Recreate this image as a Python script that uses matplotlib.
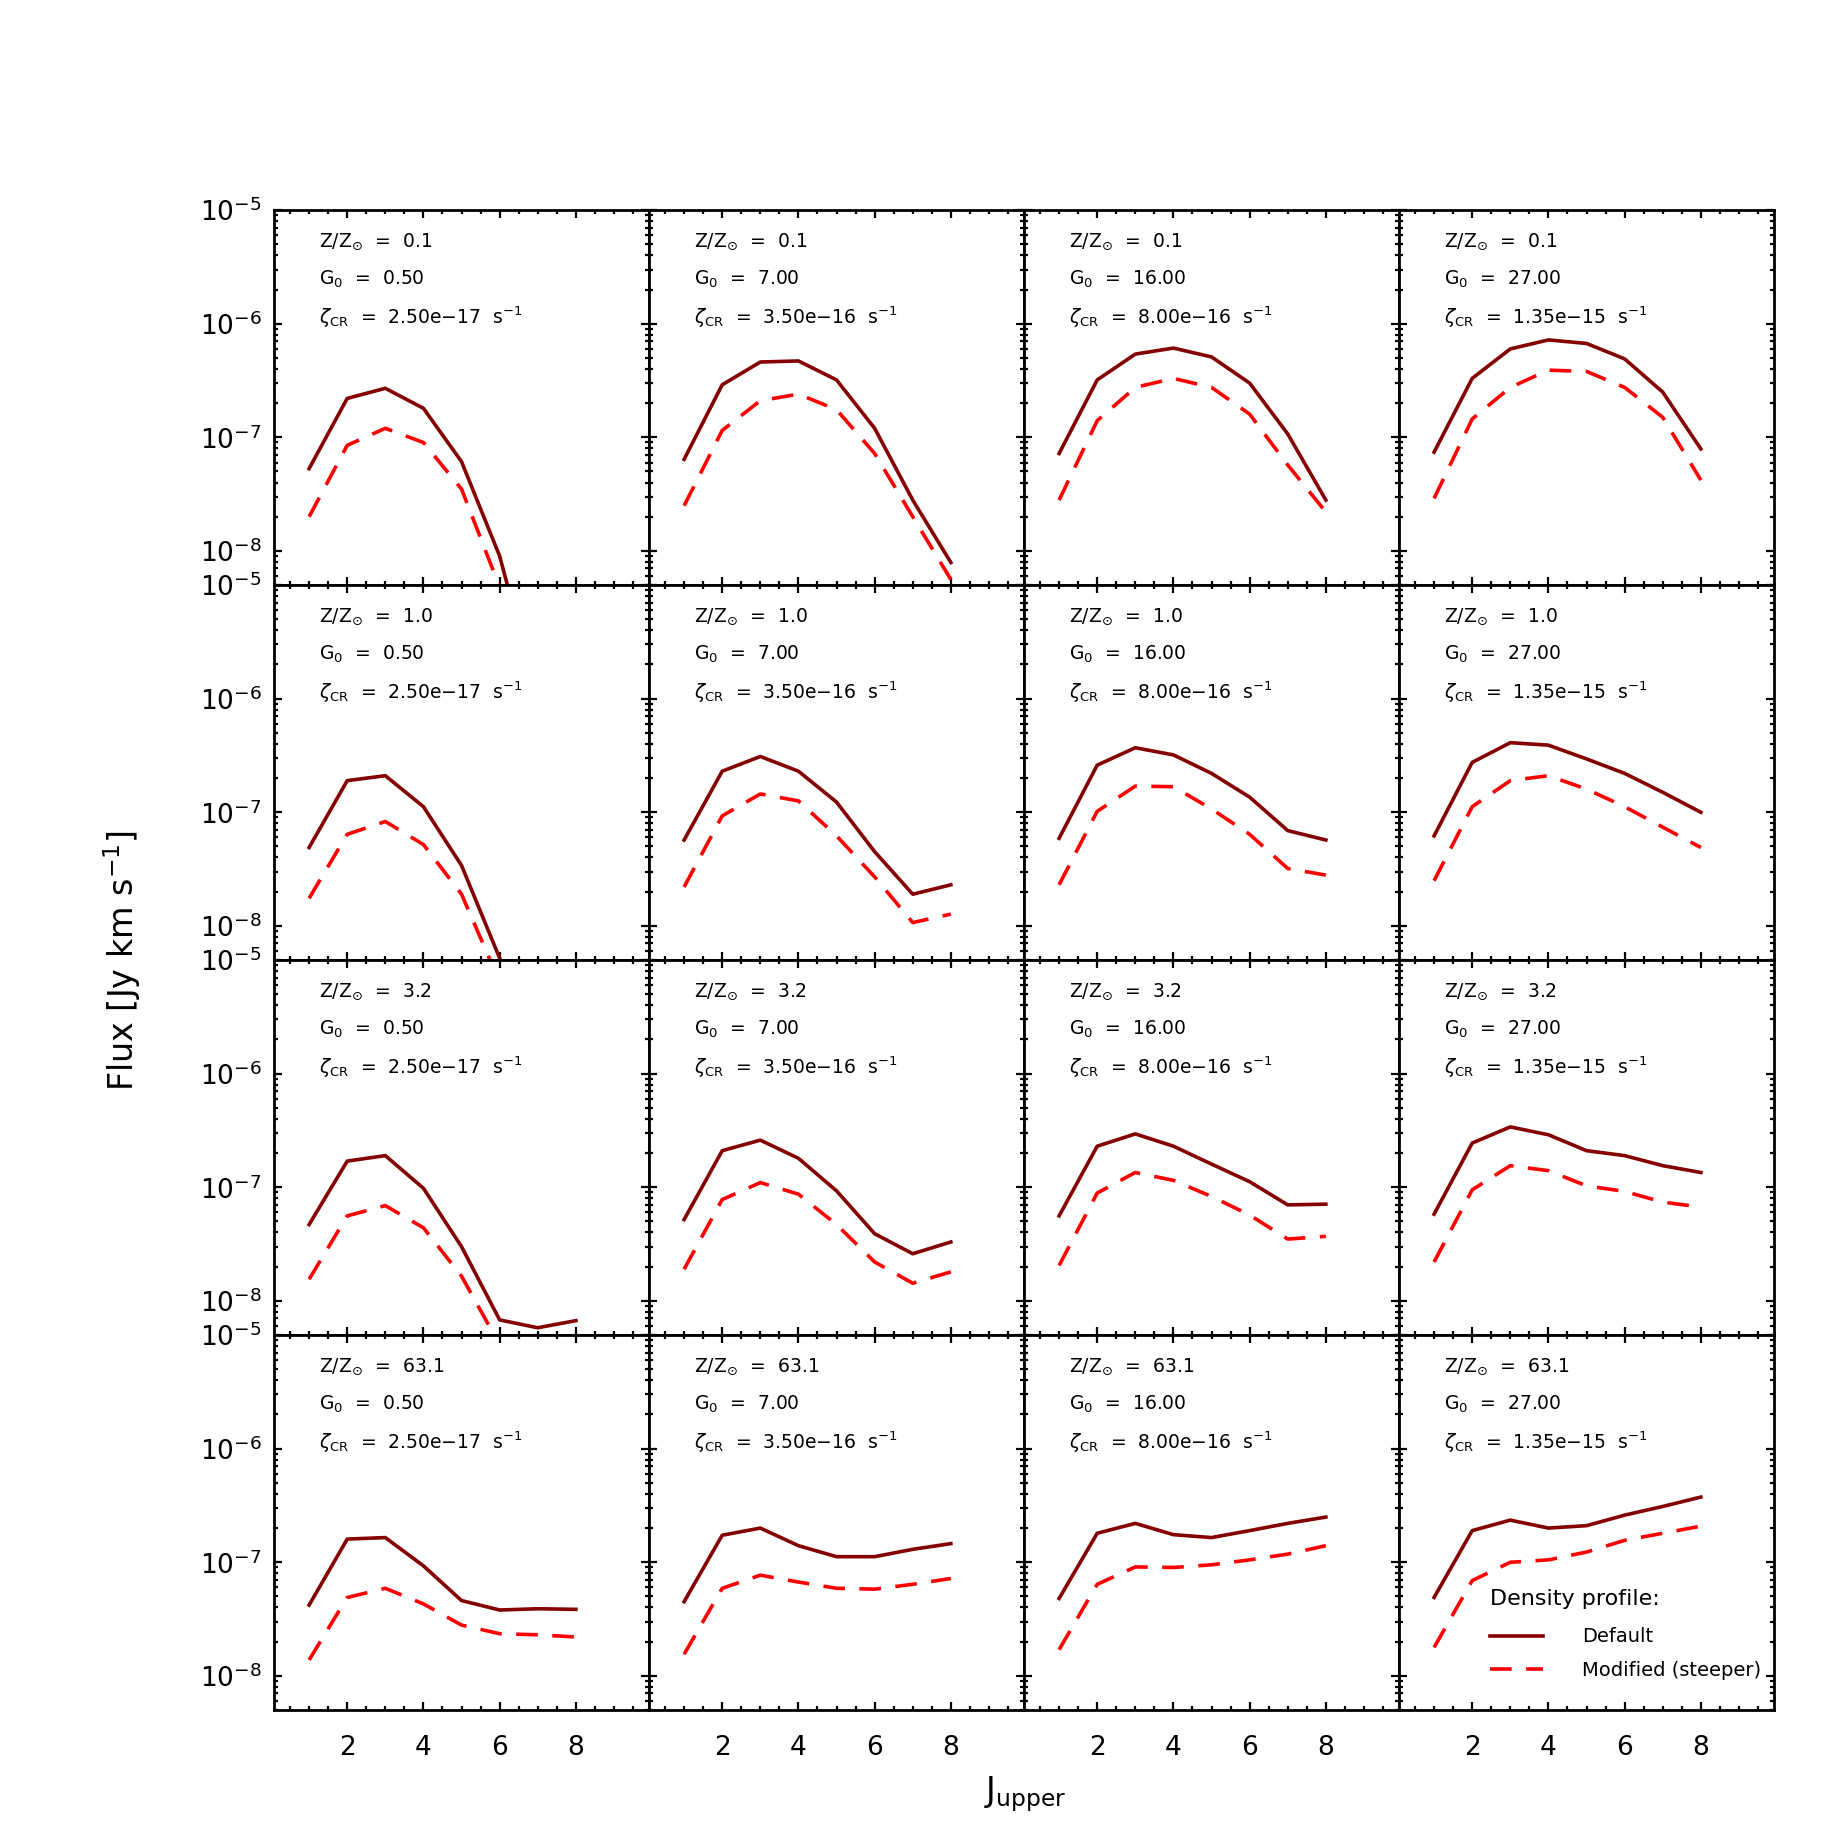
import numpy as np
import matplotlib
matplotlib.use("Agg")
import matplotlib.pyplot as plt
from matplotlib.ticker import LogLocator, MultipleLocator, NullFormatter

# --- datos ---
j_upper = [1, 2, 3, 4, 5, 6, 7, 8]

metallicity = ["0.1", "1.0", "3.2", "63.1"]
g0_values = ["0.50", "7.00", "16.00", "27.00"]
zeta_cr = ["2.50e\u221217", "3.50e\u221216", "8.00e\u221216", "1.35e\u221215"]

# filas: Z/Zsun ; columnas: G0 (cada lista = J 1..8)
flux_default_z01 = [
    [5.3e-8, 2.2e-7, 2.7e-7, 1.8e-7, 6.1e-8, 9.0e-9, 5.0e-10, 1.0e-10],
    [6.4e-8, 2.9e-7, 4.6e-7, 4.7e-7, 3.2e-7, 1.2e-7, 2.8e-8, 7.9e-9],
    [7.2e-8, 3.2e-7, 5.4e-7, 6.1e-7, 5.1e-7, 3.0e-7, 1.07e-7, 2.8e-8],
    [7.4e-8, 3.3e-7, 6.0e-7, 7.2e-7, 6.7e-7, 4.9e-7, 2.5e-7, 7.9e-8],
]
flux_steep_z01 = [
    [2.0e-8, 8.5e-8, 1.2e-7, 9.0e-8, 3.5e-8, 4.8e-9, 5.0e-10, 1.0e-10],
    [2.5e-8, 1.15e-7, 2.1e-7, 2.4e-7, 1.75e-7, 7.2e-8, 2.0e-8, 5.6e-9],
    [2.8e-8, 1.4e-7, 2.75e-7, 3.3e-7, 2.75e-7, 1.6e-7, 5.7e-8, 2.2e-8],
    [2.9e-8, 1.45e-7, 2.75e-7, 3.9e-7, 3.8e-7, 2.75e-7, 1.5e-7, 4.2e-8],
]
flux_default_z10 = [
    [4.9e-8, 1.9e-7, 2.1e-7, 1.12e-7, 3.4e-8, 5.2e-9, 1.0e-9, 3.0e-10],
    [5.7e-8, 2.3e-7, 3.1e-7, 2.3e-7, 1.23e-7, 4.5e-8, 1.9e-8, 2.3e-8],
    [5.9e-8, 2.6e-7, 3.7e-7, 3.2e-7, 2.2e-7, 1.36e-7, 6.9e-8, 5.7e-8],
    [6.2e-8, 2.75e-7, 4.1e-7, 3.9e-7, 2.95e-7, 2.2e-7, 1.5e-7, 1.0e-7],
]
flux_steep_z10 = [
    [1.75e-8, 6.4e-8, 8.3e-8, 5.2e-8, 1.9e-8, 3.2e-9, 6.0e-10, 2.0e-10],
    [2.2e-8, 9.3e-8, 1.45e-7, 1.26e-7, 6.2e-8, 2.7e-8, 1.07e-8, 1.27e-8],
    [2.3e-8, 1.02e-7, 1.7e-7, 1.68e-7, 1.07e-7, 6.4e-8, 3.2e-8, 2.8e-8],
    [2.5e-8, 1.12e-7, 1.9e-7, 2.1e-7, 1.6e-7, 1.12e-7, 7.4e-8, 4.9e-8],
]
flux_default_z32 = [
    [4.7e-8, 1.7e-7, 1.9e-7, 9.8e-8, 3.0e-8, 6.8e-9, 5.8e-9, 6.7e-9],
    [5.2e-8, 2.1e-7, 2.6e-7, 1.8e-7, 9.3e-8, 3.9e-8, 2.6e-8, 3.3e-8],
    [5.6e-8, 2.3e-7, 2.95e-7, 2.3e-7, 1.6e-7, 1.12e-7, 7.0e-8, 7.1e-8],
    [5.8e-8, 2.45e-7, 3.4e-7, 2.9e-7, 2.1e-7, 1.9e-7, 1.55e-7, 1.35e-7],
]
flux_steep_z32 = [
    [1.55e-8, 5.6e-8, 6.9e-8, 4.4e-8, 1.65e-8, 4.1e-9, 3.5e-9, 4.0e-9],
    [1.9e-8, 7.8e-8, 1.1e-7, 8.7e-8, 4.7e-8, 2.2e-8, 1.43e-8, 1.8e-8],
    [2.05e-8, 8.9e-8, 1.35e-7, 1.15e-7, 8.3e-8, 5.7e-8, 3.5e-8, 3.7e-8],
    [2.2e-8, 9.5e-8, 1.55e-7, 1.4e-7, 1.03e-7, 9.2e-8, 7.4e-8, 6.7e-8],
]
flux_default_z631 = [
    [4.2e-8, 1.6e-7, 1.65e-7, 9.3e-8, 4.6e-8, 3.8e-8, 3.9e-8, 3.85e-8],
    [4.5e-8, 1.73e-7, 2.0e-7, 1.4e-7, 1.12e-7, 1.12e-7, 1.3e-7, 1.46e-7],
    [4.8e-8, 1.8e-7, 2.2e-7, 1.75e-7, 1.65e-7, 1.9e-7, 2.2e-7, 2.5e-7],
    [4.9e-8, 1.9e-7, 2.35e-7, 2.0e-7, 2.1e-7, 2.6e-7, 3.1e-7, 3.75e-7],
]
flux_steep_z631 = [
    [1.38e-8, 4.9e-8, 5.9e-8, 4.3e-8, 2.8e-8, 2.35e-8, 2.3e-8, 2.2e-8],
    [1.55e-8, 5.9e-8, 7.7e-8, 6.7e-8, 5.9e-8, 5.8e-8, 6.4e-8, 7.2e-8],
    [1.7e-8, 6.4e-8, 9.1e-8, 9.0e-8, 9.5e-8, 1.05e-7, 1.18e-7, 1.4e-7],
    [1.78e-8, 6.9e-8, 1.0e-7, 1.05e-7, 1.23e-7, 1.56e-7, 1.8e-7, 2.08e-7],
]

flux_default = [flux_default_z01, flux_default_z10, flux_default_z32, flux_default_z631]
flux_steep = [flux_steep_z01, flux_steep_z10, flux_steep_z32, flux_steep_z631]

COLOR_DEFAULT = "#850000"
COLOR_STEEP = "#FF0000"

# --- figura ---
fig, axes = plt.subplots(4, 4, figsize=(18.27, 18.27), dpi=100, sharex=True, sharey=True)
fig.subplots_adjust(left=0.150, right=0.971, top=0.885, bottom=0.064, wspace=0, hspace=0)

for i in range(4):
    for j in range(4):
        ax = axes[i, j]
        ax.plot(j_upper, flux_default[i][j], color=COLOR_DEFAULT, lw=2.6, label="Default")
        ax.plot(j_upper, flux_steep[i][j], color=COLOR_STEEP, lw=2.6, dashes=(6, 4),
                label="Modified (steeper)")
        ax.set_yscale("log")
        ax.set_ylim(5e-9, 1e-5)
        ax.set_xlim(0.08, 9.92)

        ax.xaxis.set_major_locator(MultipleLocator(2))
        ax.xaxis.set_minor_locator(MultipleLocator(0.5))
        ax.yaxis.set_major_locator(LogLocator(base=10, numticks=10))
        ax.yaxis.set_minor_locator(LogLocator(base=10, subs=np.arange(2, 10), numticks=20))
        ax.yaxis.set_minor_formatter(NullFormatter())

        ax.tick_params(which="both", direction="in", top=True, right=True, width=1.6)
        ax.tick_params(which="major", length=6)
        ax.tick_params(which="minor", length=3)
        ax.tick_params(axis="y", labelsize=19, pad=9)
        ax.tick_params(axis="x", labelsize=19, pad=18)
        for sp in ax.spines.values():
            sp.set_linewidth(2.0)

        ax.text(0.12, 0.917, f"Z/Z$_{{\\odot}}$  =  {metallicity[i]}", transform=ax.transAxes,
                fontsize=13.5, va="center", ha="left")
        ax.text(0.12, 0.816, f"G$_{{0}}$  =  {g0_values[j]}", transform=ax.transAxes,
                fontsize=13.5, va="center", ha="left")
        ax.text(0.12, 0.715, f"$\\zeta_{{\\rm CR}}$  =  {zeta_cr[j]}  s$^{{-1}}$",
                transform=ax.transAxes, fontsize=13.5, va="center", ha="left")

# leyenda en el panel inferior derecho
leg = axes[3, 3].legend(loc="lower right", bbox_to_anchor=(0.965, 0.08), frameon=False,
                        title="Density profile:", title_fontsize=16, fontsize=14,
                        alignment="left", handlelength=2.7, handletextpad=2.0,
                        labelspacing=0.75, borderpad=0, borderaxespad=0)
leg.get_title().set_position((0, 4))

fig.text(0.067, 0.4745, "Flux [Jy km s$^{-1}$]", rotation=90, fontsize=24,
         ha="center", va="center")
fig.text(0.561, 0.018, "J$_{\\rm upper}$", fontsize=24, ha="center", va="center")

fig.savefig("out.png", dpi=100)
